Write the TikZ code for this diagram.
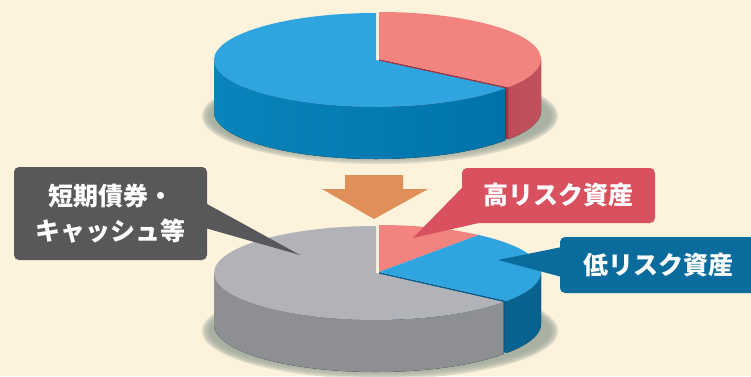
\documentclass[tikz,border=0pt]{standalone}
\usepackage{fontspec}
\newfontfamily\jpfont{Noto Sans CJK JP}
\usetikzlibrary{positioning}
\definecolor{Creme}{HTML}{FDF2DC}
\definecolor{Ombre}{HTML}{9FAA9C}
\definecolor{Bleu}{HTML}{2FA4DE}
\definecolor{BleuCoteA}{HTML}{0A84BB}
\definecolor{BleuCoteB}{HTML}{2C9FD6}
\definecolor{BleuCoteC}{HTML}{0073A9}
\definecolor{BleuFonce}{HTML}{0A6C9E}
\definecolor{BleuCoupe}{HTML}{055E8C}
\definecolor{Rose}{HTML}{F3837F}
\definecolor{RougeCote}{HTML}{C2505C}
\definecolor{RougeFonce}{HTML}{9E3442}
\definecolor{Gris}{HTML}{B2B3B8}
\definecolor{GrisFonce}{HTML}{8E8F93}
\definecolor{GrisClair}{HTML}{A8A9AD}
\definecolor{Fleche}{HTML}{E18F59}
\definecolor{BulleGris}{HTML}{58585A}
\definecolor{BulleRouge}{HTML}{D9505E}
\definecolor{BulleBleu}{HTML}{0A6C9C}

\begin{document}
\begin{tikzpicture}[x=1pt,y=1pt,
  bulle/.style={rounded corners=5pt, inner sep=0pt, text=white,
    font={\jpfont\bfseries\fontsize{25}{35}\selectfont}, align=center}]
\useasboundingbox (0,0) rectangle (751,376);
\fill[Creme] (0,0) rectangle (751,376);
%
% upper pie
\foreach \k in {0,...,4}
  \fill[Ombre,opacity=0.35] (380,260) ellipse [x radius={178-2*\k}, y radius={48-2*\k}];
\begin{scope}[shift={(3,1)}]
\fill[left color=RougeCote!85!black, right color=RougeCote] (376,316) ++(-37:162 and 47) arc[start angle=-37, end angle=0, x radius=162, y radius=47] -- ++(0,-52) arc[start angle=0, end angle=-37, x radius=162, y radius=47] -- cycle;
\fill[RougeFonce] (376,316) -- ++(-37:162 and 47) -- ++(0,-52) -- (376,264) -- cycle;
\fill[Rose] (376,316) -- ++(-37:162 and 47) arc[start angle=-37, end angle=90, x radius=162, y radius=47] -- cycle;
\end{scope}
\fill[left color=BleuCoteA, middle color=BleuCoteB, right color=BleuCoteC] (376,316) ++(180:162 and 47) arc[start angle=180, end angle=323, x radius=162, y radius=47] -- ++(0,-52) arc[start angle=323, end angle=180, x radius=162, y radius=47] -- cycle;
\fill[Bleu] (376,316) -- ++(90:162 and 47) arc[start angle=90, end angle=323, x radius=162, y radius=47] -- cycle;
%
% arrow
\fill[Fleche] (345,201) -- (403,201) -- (403,187) -- (428,187) -- (374,157) -- (322,187) -- (345,187) -- cycle;
%
% lower pie
\foreach \k in {0,...,4}
  \fill[Ombre,opacity=0.35] (380,45) ellipse [x radius={178-2*\k}, y radius={48-2*\k}];
\begin{scope}[shift={(3,1)}]
\fill[Rose] (376,103) -- ++(52:162 and 47) arc[start angle=52, end angle=90, x radius=162, y radius=47] -- cycle;
\fill[left color=BleuFonce, right color=BleuFonce!90!black] (376,103) ++(-38:162 and 47) arc[start angle=-38, end angle=0, x radius=162, y radius=47] -- ++(0,-52) arc[start angle=0, end angle=-38, x radius=162, y radius=47] -- cycle;
\fill[BleuCoupe] (376,103) -- ++(-38:162 and 47) -- ++(0,-52) -- (376,51) -- cycle;
\fill[Bleu] (376,103) -- ++(-38:162 and 47) arc[start angle=-38, end angle=52, x radius=162, y radius=47] -- cycle;
\end{scope}
\fill[left color=GrisFonce, middle color=GrisClair, right color=GrisFonce] (376,103) ++(180:162 and 47) arc[start angle=180, end angle=322, x radius=162, y radius=47] -- ++(0,-52) arc[start angle=322, end angle=180, x radius=162, y radius=47] -- cycle;
\fill[Gris] (376,103) -- ++(90:162 and 47) arc[start angle=90, end angle=322, x radius=162, y radius=47] -- cycle;
%
% callouts
\node[bulle, fill=BulleGris, minimum width=193pt, minimum height=93pt] (cash) at (110.5,162.5) {短期債券・\\キャッシュ等};
\coordinate (cashtip) at (300,121);
\fill[BulleGris] ([xshift=-2pt,yshift=10.5pt]cash.east) -- (cashtip) -- ([xshift=-2pt,yshift=-14.5pt]cash.east) -- cycle;
%
\node[bulle, fill=BulleRouge, minimum width=193pt, minimum height=55pt] (high) at (558.5,180.5) {高リスク資産};
\coordinate (hightip) at (413,138);
\fill[BulleRouge] ([xshift=2pt,yshift=9.5pt]high.west) -- (hightip) -- ([xshift=16pt]high.south west) -- cycle;
%
\node[bulle, fill=BulleBleu, minimum width=196pt, minimum height=56pt] (low) at (658,111) {低リスク資産};
\coordinate (lowtip) at (498,116);
\fill[BulleBleu] ([xshift=2pt,yshift=18pt]low.west) -- (lowtip) -- ([xshift=2pt,yshift=-12pt]low.west) -- cycle;
\end{tikzpicture}
\end{document}
